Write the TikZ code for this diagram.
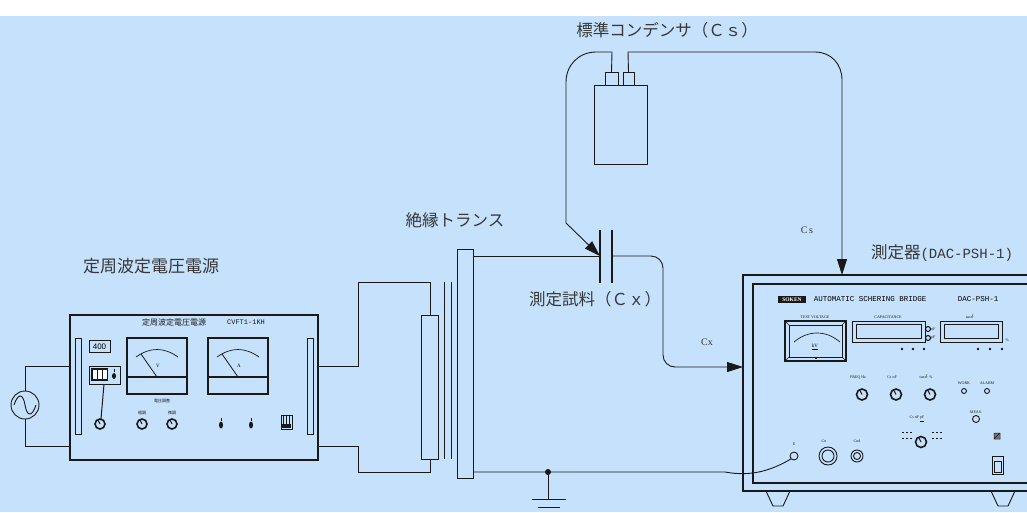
\documentclass[tikz,border=0pt]{standalone}
\usepackage{fontspec}
\setmainfont{Liberation Serif}
\setsansfont{Liberation Sans}
\setmonofont{Liberation Mono}
\newfontfamily\jpfont{Noto Sans CJK JP}
\usetikzlibrary{arrows.meta}

\definecolor{bgblue}{RGB}{197,225,251}
\definecolor{ink}{RGB}{25,25,25}
\definecolor{txtgray}{RGB}{55,55,55}

\tikzset{
  wire/.style={draw=ink, line width=0.9pt},
  feed/.style={wire, -{Triangle[length=16pt,width=10pt]}},
  unit/.style={draw=ink, line width=0.9pt, inner sep=0pt, outer sep=0pt},
  biglabel/.style={text=txtgray, font=\jpfont\fontsize{16.5}{18}\selectfont},
  tiny/.style={font=\fontsize{4}{4}\selectfont, text=ink, inner sep=0pt},
  jptiny/.style={font=\jpfont\fontsize{4}{4}\selectfont, text=ink, inner sep=0pt},
  knob/.style={draw=ink, line width=1.6pt, circle, minimum size=10pt, inner sep=0pt},
}

\begin{document}
\begin{tikzpicture}[x=1pt,y=-1pt]
\useasboundingbox (0,0) rectangle (1027,512);
\fill[bgblue] (0,16) rectangle (1027,512);

% main units
\node[unit, circle, minimum size=28pt] (src) at (25,405) {};
\node[unit, minimum width=248pt, minimum height=145pt, line width=1.2pt] (psu) at (194,387.5) {};
\node[unit, minimum width=17pt, minimum height=144pt] (prim) at (430,387) {};
\node[unit, minimum width=16pt, minimum height=229pt] (sec) at (465,363.5) {};
\node[unit, minimum width=53pt, minimum height=79pt] (cs) at (620.5,124.5) {};
\node[unit, minimum width=13pt, minimum height=13pt] (csa) at (611.5,78.5) {};
\node[unit, minimum width=11pt, minimum height=13pt] (csb) at (628.5,78.5) {};
\node[unit, minimum width=292pt, minimum height=216pt, line width=1.3pt] (dac) at (889,383) {};
\node[unit, circle, minimum size=8pt] (eterm) at (794,456) {};
\coordinate (cxl) at (600,256);
\coordinate (cxr) at (612,256);
\coordinate (gnd) at (548,472);

% labels
\node[biglabel, font=\jpfont\fontsize{17}{18}\selectfont] (psulbl) at (151,266) {定周波定電圧電源};
\node[biglabel] (trlbl) at (455,220) {絶縁トランス};
\node[biglabel] (cxlbl) at (595,299) {測定試料（Ｃｘ）};
\node[biglabel] (cslbl) at (667,30) {標準コンデンサ（Ｃｓ）};
\node[biglabel] (daclbl) at (942,253) {測定器\texttt{\fontsize{14}{16}\selectfont(DAC-PSH-1)}};
\node[text=txtgray, font=\fontsize{10}{12}\selectfont] (cstag) at (807,230) {C\,s};
\node[text=txtgray, font=\fontsize{10}{12}\selectfont] (cxtag) at (707,342) {Cx};

% wiring
\draw[wire] (14,405) .. controls (18,393) and (23,393) .. (25,405) .. controls (27,417) and (32,417) .. (36,405);
\draw[wire] (src.north) |- (psu.west |- 0,366);
\draw[wire] (src.south) |- (psu.west |- 0,446);
\draw[wire] (psu.east |- 0,366) -- (358,366) -- (358,282) -| (prim.north);
\draw[wire] (psu.east |- 0,446) -- (358,446) -- (358,472) -| (prim.south);
\foreach \cx in {444,451}
  \draw[wire, line width=0.7pt] (\cx,282) -- (\cx,459);
\draw[wire] (sec.east |- cxl) -- (cxl);
\draw[wire, line width=1.1pt] ([yshift=26.5pt]cxl) -- ([yshift=-26.5pt]cxl);
\draw[wire, line width=1.1pt] ([yshift=26.5pt]cxr) -- ([yshift=-26.5pt]cxr);
\draw[feed, rounded corners=12pt] (cxr) -- (663,256) -- (663,367) -- (dac.west |- 0,367);
\draw[feed] (csa.north) -- (612,52) -- (596,52) .. controls (579,52) and (566,65) .. (566,82) -- (566,223) -- (cxl);
\draw[feed] (csb.north) -- (628,52) -- (815,52) .. controls (831,52) and (842,64) .. (842,80) -- (842,0 |- dac.north);
\draw[wire] (sec.east |- gnd) -- (gnd) -- (725,472) .. controls (752,477) and (772,470) .. (eterm.south west);
\fill[ink] (gnd) circle (3pt);
\draw[wire] (gnd) -- (548,499);
\draw[wire] (532,499) -- (566,499);
\draw[wire] (538,507) -- (560,507);

% power supply panel
\node[font=\jpfont\fontsize{8}{9}\selectfont, text=ink] at (174,322) {定周波定電圧電源};
\node[font=\ttfamily\fontsize{7}{8}\selectfont, text=ink] at (246,322) {CVFT1-1KH};
\draw[ink, line width=0.8pt] (75,338) rectangle (81,434) (307,338) rectangle (313,434);
\draw[ink, line width=0.8pt] (89,340) rectangle (110,352);
\node[font=\sffamily\fontsize{8}{8}\selectfont, inner sep=0pt] at (99.5,346.5) {400};
\draw[ink, line width=0.8pt] (89,366) rectangle (120,384);
\fill[ink] (91,368) rectangle (108,381);
\foreach \wx in {92.5,97.5,102.5}
  \fill[white] (\wx,370) rectangle (\wx+4,379);
\fill[ink] (114,376) ellipse (2pt and 3pt);
\draw[ink] (114,372) -- (114,369);
\draw[ink, line width=1pt] (104,384) -- (101,419);
\foreach \kx in {100,142,172} {
  \node[knob] at (\kx,424) {};
  \draw[ink, line width=1pt] (\kx,424) -- ++(-2,-4);
}
\node[jptiny] at (162,401) {電圧調整};
\node[jptiny] at (142,413) {粗調};
\node[jptiny] at (172,413) {微調};
\foreach \mx/\ml in {127/V,208/A} {
  \draw[ink, line width=1.1pt] (\mx,338) rectangle (\mx+60,394);
  \draw[ink, line width=1.1pt] (\mx,377) -- (\mx+60,377);
  \draw[ink, line width=0.7pt] (\mx+9,357) .. controls (\mx+23,347) and (\mx+37,347) .. (\mx+51,357);
  \draw[ink, line width=0.8pt] (\mx+14,354) -- (\mx+30,377);
  \node[font=\fontsize{5}{5}\selectfont, inner sep=0pt] at (\mx+31,366) {\ml};
}
\foreach \tx in {221,251} {
  \fill[ink] (\tx,425) ellipse (2pt and 3.5pt);
  \draw[ink] (\tx,421) -- (\tx,418);
}
\draw[ink, line width=0.8pt] (281,415) rectangle (292,429);
\foreach \fx in {283.5,286.5,289.5}
  \draw[ink, line width=1pt] (\fx,416) -- (\fx,424);
\fill[ink] (282,424) rectangle (291,428);

% measuring bridge panel
\draw[ink, line width=1.1pt] (753,284) rectangle (1040,483);
\draw[ink, line width=0.9pt] (766,491) -- (773,506) -- (783,506) -- (790,491);
\draw[ink, line width=0.9pt] (991,491) -- (998,506) -- (1008,506) -- (1015,491);
\fill[ink] (778,296) rectangle (806,303);
\node[text=white, font=\bfseries\fontsize{5.5}{6}\selectfont, inner sep=0pt] at (792,299.5) {SOKEN};
\node[font=\ttfamily\fontsize{7.5}{8}\selectfont, inner sep=0pt] at (870,299.5) {AUTOMATIC SCHERING BRIDGE};
\node[font=\ttfamily\fontsize{7.5}{8}\selectfont, inner sep=0pt] at (978,299.5) {DAC-PSH-1};
\node[tiny] at (815,317) {TEST VOLTAGE};
\node[tiny] at (888,317) {CAPACITANCE};
\node[tiny] at (970,317) {tan$\delta$};
\draw[ink, line width=1.4pt] (785,321) rectangle (846,361);
\draw[ink, line width=0.8pt] (789,325) rectangle (842,357);
\draw[ink, line width=0.6pt] (785,321) -- (789,325) (846,321) -- (842,325) (785,361) -- (789,357) (846,361) -- (842,357);
\draw[ink, line width=0.7pt] (794,342) .. controls (808,330) and (826,330) .. (840,342);
\node[font=\fontsize{5}{5}\selectfont, inner sep=0pt] at (815,347) {\underline{kV}};
\fill[ink] (815,357) rectangle (817,359);
\draw[ink, line width=1pt] (852,321) rectangle (925,342);
\draw[ink, line width=0.7pt] (856,324) rectangle (921,338);
\draw[ink, line width=1pt] (940,321) rectangle (1002,342);
\draw[ink, line width=0.7pt] (944,324) rectangle (998,338);
\foreach \sy/\sl in {329/nF,338/pF} {
  \draw[ink, line width=1.1pt] (928,\sy) circle (2.5pt);
  \node[tiny, anchor=west] at (931,\sy) {\sl};
}
\node[tiny] at (1007,340) {\%};
\foreach \dx in {902,913,924,978,990,1002}
  \fill[ink] (\dx,349) circle (1.4pt);
\foreach \kx/\kl in {862/FREQ Hz,896/Cs nF,930/tan$\delta$ \%} {
  \node[tiny] at (\kx-4,377) {\kl};
  \node[knob, minimum size=11pt] at (\kx,394.5) {};
  \draw[ink, line width=1pt] (\kx,394.5) -- ++(-2,-4);
}
\foreach \lx/\ll in {964/WORK,987/ALARM} {
  \node[tiny] at (\lx,383) {\ll};
  \draw[ink, line width=0.9pt] (\lx,391) circle (2.5pt);
}
\node[tiny] at (976,412) {MEAS.};
\draw[ink, line width=0.9pt] (976,419) circle (3.5pt);
\node[tiny] at (917,419) {Cs nF \underline{pF}};
\node[knob, minimum size=11pt] (rng) at (921,442) {};
\draw[ink, line width=1pt] (921,442) -- ++(-2,-4);
\foreach \rx in {902,906,910,932,936,940}
  \draw[ink, line width=0.8pt] (\rx,432) -- ++(2,0) (\rx,438) -- ++(2,0);
\fill[ink!60] (994,433) rectangle (1000,439);
\draw[ink, line width=0.5pt] (994,433) rectangle (1000,439) (994,439) -- (1000,433);
\draw[ink, line width=1pt] (992,456) rectangle (1003,474);
\draw[ink, line width=0.8pt] (994,461) rectangle (1001,472);
\node[tiny] at (794,444) {E};
\node[tiny] at (824,441) {Cn};
\node[tiny] at (857,441) {Cnd};
\draw[ink, line width=0.9pt] (828,456) circle (9pt) (828,456) circle (6pt);
\draw[ink, line width=0.9pt] (857,456) circle (6pt) (857,456) circle (3.5pt);
\end{tikzpicture}
\end{document}
